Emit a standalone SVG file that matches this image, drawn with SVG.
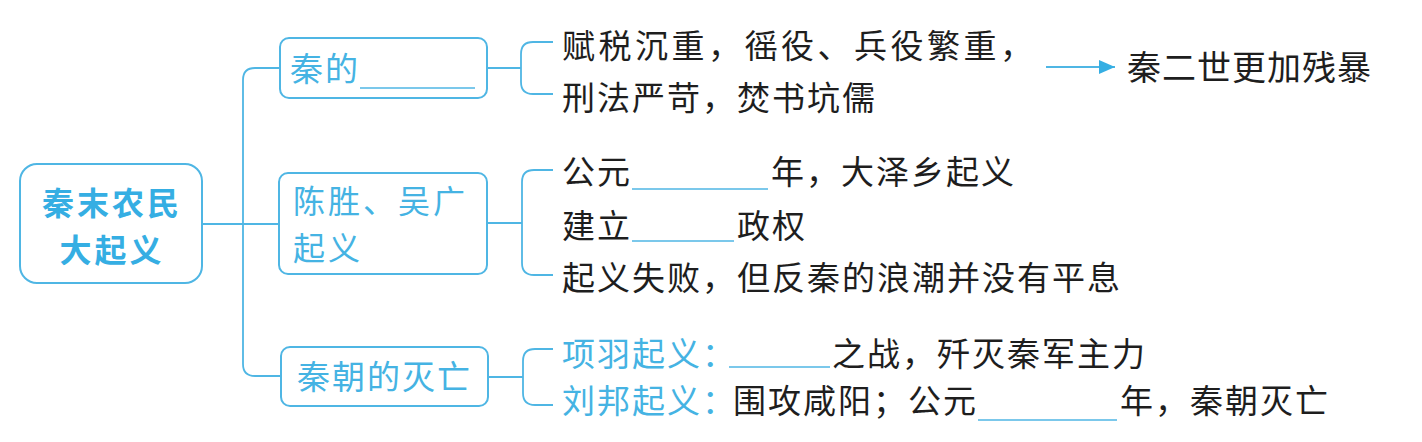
<svg xmlns="http://www.w3.org/2000/svg" width="1422" height="442" viewBox="0 0 1422 442">
<style>
.t{font-family:"Noto Sans CJK SC","Noto Sans CJK JP",sans-serif;font-size:33px;letter-spacing:2px;fill:#1e1e1e}
.b{font-family:"Noto Sans CJK SC","Noto Sans CJK JP",sans-serif;font-size:33px;letter-spacing:2px;fill:#45b3e3}
.b2{font-family:"Noto Sans CJK SC","Noto Sans CJK JP",sans-serif;font-size:32px;letter-spacing:3px;fill:#45b3e3}
.m{font-family:"Noto Sans CJK SC","Noto Sans CJK JP",sans-serif;font-size:32px;letter-spacing:3px;fill:#35aee3;font-weight:bold}
.box{fill:#fff;stroke:#4fb6e4;stroke-width:2}
.ln{fill:none;stroke:#4fb6e4;stroke-width:1.8}
.ul{stroke:#4fb6e4;stroke-width:1.5}
</style>
<defs>
<marker id="ah" viewBox="0 0 16 14" refX="16" refY="7" markerWidth="16" markerHeight="14" markerUnits="userSpaceOnUse" orient="auto">
<path d="M0,0 L16,7 L0,14 Z" fill="#35aee3"/>
</marker>
</defs>
<rect width="1422" height="442" fill="#fff"/>
<g id="connectors">
<path class="ln" d="M202,224 H278"/>
<path class="ln" d="M280,68 H255 Q243,68 243,80 V364 Q243,376 255,376 H281"/>
<path class="ln" d="M487,68 H521"/>
<path class="ln" d="M553,42 H533 Q521,42 521,54 V82 Q521,94 533,94 H553"/>
<path class="ln" d="M487,223 H522"/>
<path class="ln" d="M553,170 H534 Q522,170 522,182 V263 Q522,275 534,275 H553"/>
<path class="ln" d="M488,377 H523"/>
<path class="ln" d="M553,349 H535 Q523,349 523,361 V393 Q523,405 535,405 H553"/>
<path class="ln" d="M1046,67 H1115" marker-end="url(#ah)"/>
</g>
<g id="main">
<rect class="box" x="20" y="164" width="182" height="119" rx="17"/>
<text class="m" text-anchor="middle"><tspan x="112" y="215">秦末农民</tspan><tspan x="112" y="262">大起义</tspan></text>
</g>
<g id="qin">
<rect class="box" x="280" y="38" width="207" height="60" rx="9"/>
<text class="b" x="290" y="81">秦的</text>
<line class="ul" x1="360" y1="88" x2="475" y2="88"/>
</g>
<g id="chensheng">
<rect class="box" x="279" y="173" width="208" height="101" rx="9"/>
<text class="b2"><tspan x="293" y="213">陈胜、吴广</tspan><tspan x="293" y="260">起义</tspan></text>
</g>
<g id="miewang">
<rect class="box" x="281" y="347" width="207" height="59" rx="9"/>
<text class="b" x="297" y="389">秦朝的灭亡</text>
</g>
<g id="g1">
<text class="t" x="562" y="58" style="letter-spacing:3.5px">赋税沉重，徭役、兵役繁重，</text>
<text class="t" x="562" y="110">刑法严苛，焚书坑儒</text>
</g>
<g id="ershi">
<text class="t" x="1127" y="80" style="font-size:34px;letter-spacing:1px">秦二世更加残暴</text>
</g>
<g id="g2">
<text class="t" x="562" y="184">公元</text>
<line class="ul" x1="632" y1="189" x2="768" y2="189"/>
<text class="t" x="771" y="184">年，大泽乡起义</text>
<text class="t" x="562" y="238">建立</text>
<line class="ul" x1="632" y1="241" x2="734" y2="241"/>
<text class="t" x="737" y="238">政权</text>
<text class="t" x="562" y="290">起义失败，但反秦的浪潮并没有平息</text>
</g>
<g id="g3">
<text class="b" x="562" y="366">项羽起义：</text>
<line class="ul" x1="729" y1="367" x2="830" y2="367"/>
<text class="t" x="832" y="366">之战，歼灭秦军主力</text>
<text class="b" x="562" y="413">刘邦起义：</text>
<text class="t" x="733" y="413">围攻咸阳；公元</text>
<line class="ul" x1="978" y1="420" x2="1117" y2="420"/>
<text class="t" x="1120" y="413">年，秦朝灭亡</text>
</g>
</svg>
